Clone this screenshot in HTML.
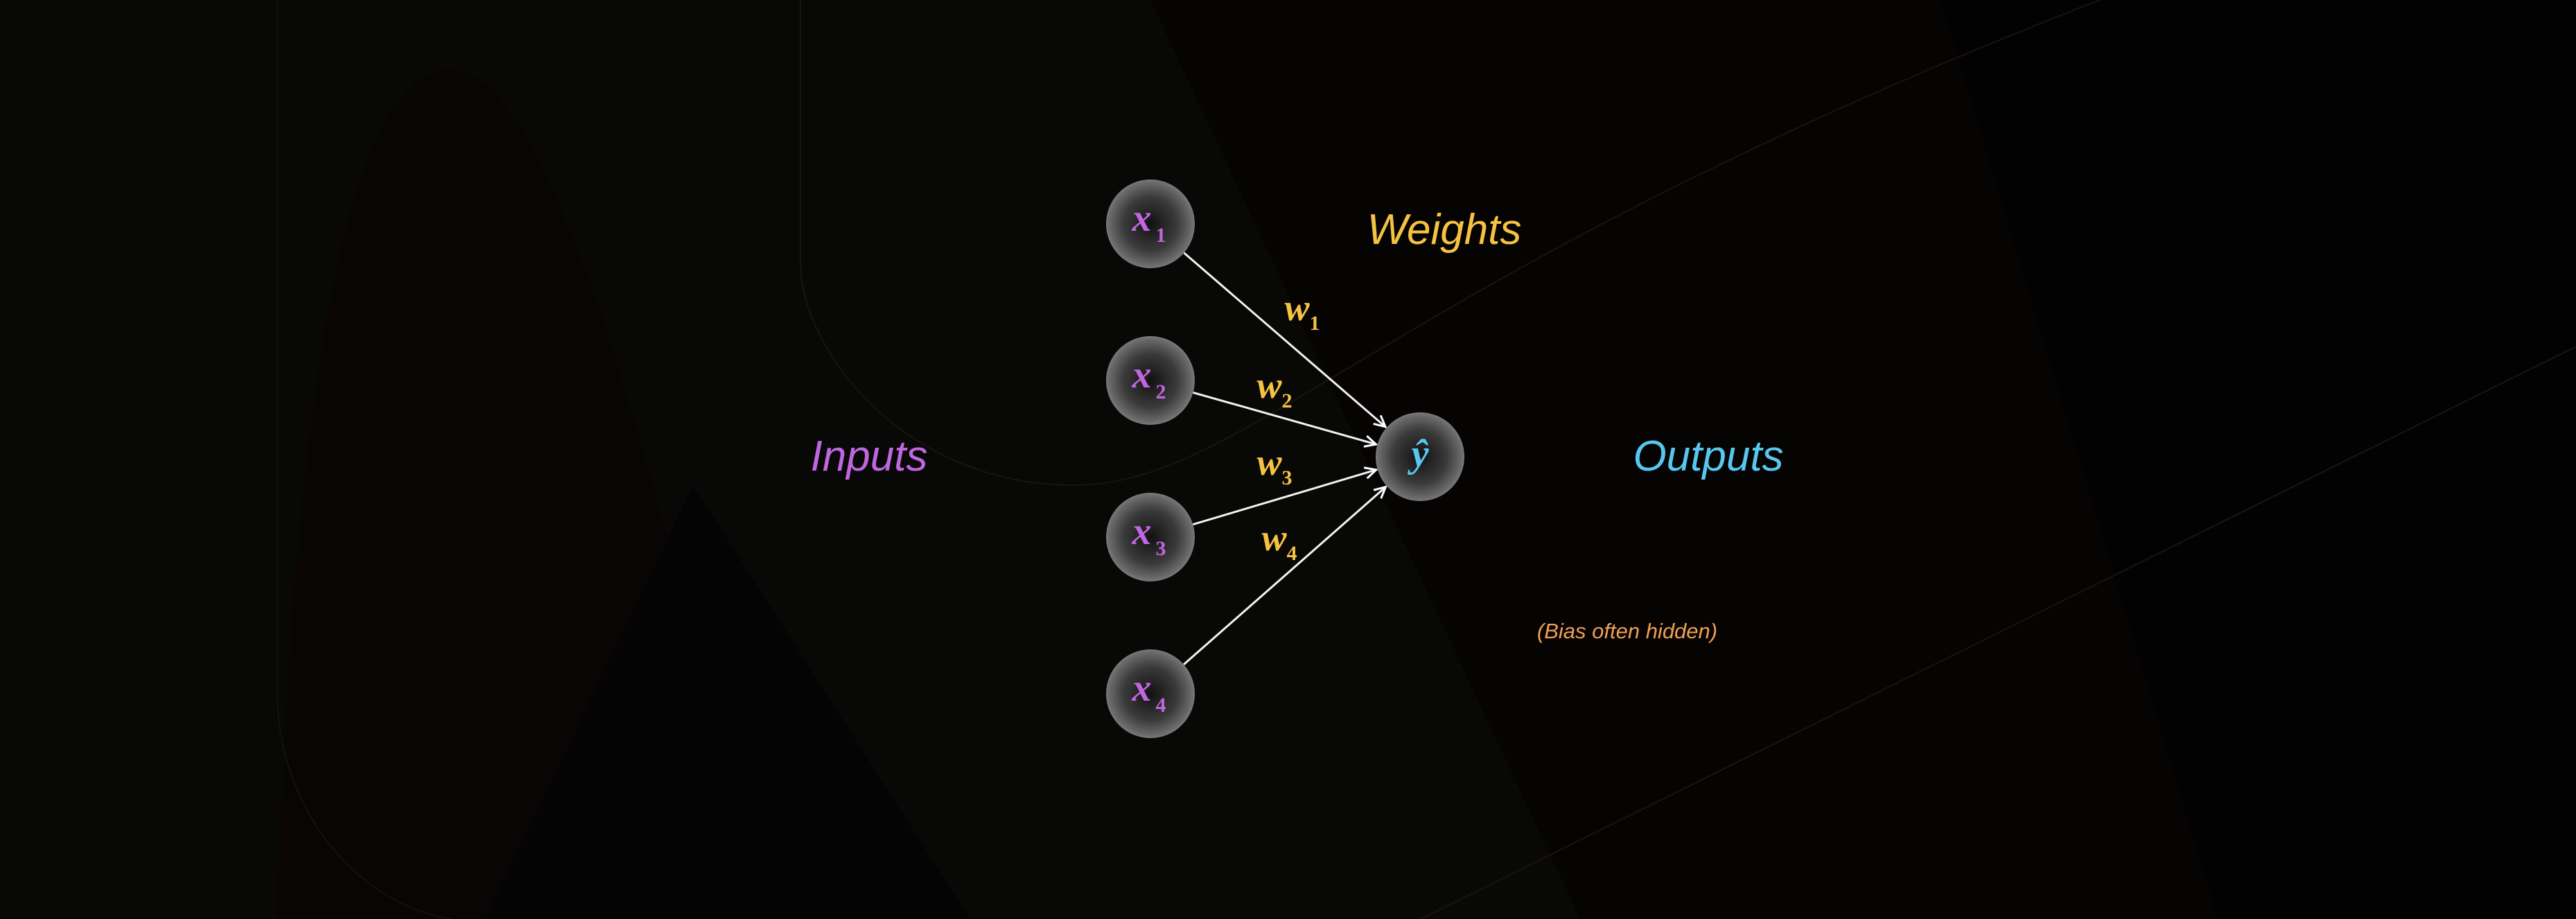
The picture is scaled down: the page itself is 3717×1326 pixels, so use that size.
<!DOCTYPE html>
<html><head><meta charset="utf-8"><style>
html,body{margin:0;padding:0;background:#070705;}
svg{display:block}
.lbl{font-family:"Liberation Sans",sans-serif;font-style:italic;}
.math{font-family:"Liberation Serif",serif;font-style:italic;font-weight:bold;}
</style></head><body>
<svg id="chart" width="3717" height="1326" viewBox="0 0 3717 1326" xmlns="http://www.w3.org/2000/svg">
<defs>
<radialGradient id="ng" cx="50%" cy="50%" r="50%">
<stop offset="0" stop-color="#111"/><stop offset="0.6" stop-color="#3a3a3a"/><stop offset="0.93" stop-color="#6a6a6a"/><stop offset="1" stop-color="#7a7a7a"/>
</radialGradient>
<marker id="arr" viewBox="0 0 20 20" refX="18" refY="10" markerWidth="20" markerHeight="20" markerUnits="userSpaceOnUse" orient="auto">
<path d="M2,2 L18,10 L2,18" fill="none" stroke="#fff" stroke-width="3"/>
</marker>
</defs>
<g>
<rect width="3717" height="1326" fill="#080806"/>
<path d="M1660,0 L3717,0 L3717,1326 L2280,1326 Z" fill="#060303"/>
<path d="M2800,0 L3717,0 L3717,1326 L3200,1326 Z" fill="#030202"/>
<path d="M400,1326 C420,700 480,100 650,100 C800,100 950,700 1100,1326 Z" fill="#090504"/>
<path d="M700,1326 L1000,700 L1400,1326 Z" fill="#040405"/>
<path d="M1155,0 L1155,380 C1155,500 1300,700 1550,700 C1800,700 2000,400 3030,0" fill="none" stroke="#1c130d" stroke-width="2"/>
<path d="M2050,1326 L3717,500" fill="none" stroke="#1f120c" stroke-width="2"/>
<path d="M400,0 L400,1000 C400,1150 500,1300 650,1326" fill="none" stroke="#121210" stroke-width="2"/>
</g>
<g id="edges"></g>
<g id="nodes"></g>
<text class="lbl" x="1254" y="679" font-size="62" fill="#c066e0" text-anchor="middle">Inputs</text>
<text class="lbl" x="2084" y="352" font-size="62" fill="#f5c242" text-anchor="middle">Weights</text>
<text class="lbl" x="2465" y="679" font-size="62" fill="#56c8f0" text-anchor="middle">Outputs</text>
<text class="lbl" x="2348" y="921" font-size="31" fill="#f0a050" text-anchor="middle">(Bias often hidden)</text>
</svg>
<script>
const inputLabels = ["1","2","3","4"];
const inputY = [323, 549, 775, 1001];
const inputX = 1660;
const outX = 2049, outY = 659;
const weightLabels = ["1","2","3","4"];
const weightPos = [[1889,450],[1849,562],[1849,673],[1856,782]];
const R = 64;
const NS = "http://www.w3.org/2000/svg";
const eg = document.getElementById('edges');
const ng = document.getElementById('nodes');
function mk(t, a){const e=document.createElementNS(NS,t);for(const k in a)e.setAttribute(k,a[k]);return e;}
inputY.forEach((y,i)=>{
  const dx=outX-inputX, dy=outY-y, L=Math.hypot(dx,dy), ux=dx/L, uy=dy/L;
  const line=mk('line',{x1:inputX+ux*R,y1:y+uy*R,x2:outX-ux*(R+2),y2:outY-uy*(R+2),stroke:'#f2f2f2','stroke-width':3,'marker-end':'url(#arr)'});
  
  
  eg.appendChild(line);
  const wt=mk('text',{x:weightPos[i][0]-10,y:weightPos[i][1]+12,class:'math','font-size':54,fill:'#f5c242','text-anchor':'middle'});
  wt.innerHTML='w<tspan font-size="30" font-style="normal" dy="14">'+weightLabels[i]+'</tspan>';
  
  
  eg.appendChild(wt);
});
inputY.forEach((y,i)=>{
  const c=mk('circle',{cx:inputX,cy:y,r:R,fill:'url(#ng)'});
  
  
  ng.appendChild(c);
  const t=mk('text',{x:inputX-2,y:y+10,class:'math','font-size':56,fill:'#c066e0','text-anchor':'middle'});
  t.innerHTML='x<tspan font-size="30" font-style="normal" dx="6" dy="16">'+inputLabels[i]+'</tspan>';
  
  
  ng.appendChild(t);
});
const oc=mk('circle',{cx:outX,cy:outY,r:R,fill:'url(#ng)'});


ng.appendChild(oc);
const ot=mk('text',{x:outX,y:outY+14,class:'math','font-size':56,fill:'#56c8f0','text-anchor':'middle'});
ot.textContent='ŷ';


ng.appendChild(ot);
</script>
</body></html>
